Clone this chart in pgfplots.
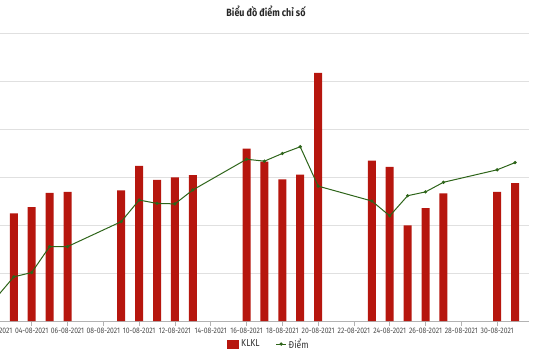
\documentclass[border=0pt]{standalone}
\usepackage{fontspec}
\setmainfont[FakeStretch=0.85]{Fira Sans}
\usepackage{pgfplots}
\usepackage{pgfplotstable}
\pgfplotsset{compat=1.18}
\definecolor{barred}{RGB}{182,22,14}
\definecolor{lgreen}{RGB}{45,100,25}
\definecolor{gridc}{RGB}{224,224,224}
\pgfplotstableread{
day klkl
3 2.24
4 2.37
5 2.67
6 2.69
9 2.72
10 3.23
11 2.94
12 2.99
13 3.04
16 3.59
17 3.32
18 2.95
19 3.05
20 5.17
23 3.34
24 3.21
25 1.99
26 2.35
27 2.66
30 2.69
31 2.875
}\bars
\pgfplotstableread{
day diem
2 0.48
3 0.92
4 1.01
5 1.55
6 1.55
9 2.07
10 2.52
11 2.45
12 2.44
13 2.73
16 3.37
17 3.33
18 3.49
19 3.63
20 2.81
23 2.50
24 2.19
25 2.61
26 2.69
27 2.89
30 3.15
31 3.30
}\pts
\begin{document}
\begin{tikzpicture}[x=1pt,y=1pt]
\begin{axis}[at={(-22pt,39pt)}, anchor=south west, scale only axis,
  width=551pt, height=288pt,
  xmin=1, xmax=31.78, ymin=0, ymax=6,
  ytick={0,1,...,6}, yticklabels={}, ymajorgrids,
  grid style={gridc, line width=0.8pt},
  axis x line*=bottom, axis y line*=left,
  y axis line style={draw=none},
  ytick style={draw=none},
  x axis line style={gridc!80!black, line width=0.6pt, -},
  xtick={2,4,...,30},
  xticklabels={02-08-2021,04-08-2021,06-08-2021,08-08-2021,10-08-2021,12-08-2021,14-08-2021,16-08-2021,18-08-2021,20-08-2021,22-08-2021,24-08-2021,26-08-2021,28-08-2021,30-08-2021},
  xtick style={gridc!80!black, line width=0.6pt},
  tick align=outside, major tick length=5pt,
  xticklabel style={font=\fontsize{8}{9}\selectfont, text=black!70, yshift=1pt},
  legend columns=2,
  legend style={draw=none, fill=none, at={(0.528,-0.08)}, anchor=center,
    font=\fontsize{10}{11}\selectfont, text=black!80,
    /tikz/every even column/.append style={column sep=14pt}},
]
\addplot[ybar, bar width=8pt, bar shift=0pt, fill=barred, draw=none,
  legend image code/.code={\fill[barred] (0pt,-4.5pt) rectangle (12pt,4.5pt);}]
  table[x=day, y=klkl] {\bars};
\addlegendentry{KLKL}
\addplot[lgreen, line width=1pt, mark=*, mark size=1.1pt, mark options={fill=lgreen, draw=lgreen},
  legend image code/.code={\draw[lgreen, line width=1pt] (0pt,0pt) -- (10pt,0pt); \fill[lgreen] (5pt,0pt) circle (1.1pt);}]
  table[x=day, y=diem] {\pts};
\addlegendentry{Điểm}
\end{axis}
\node[font=\bfseries\fontsize{10.5}{12}\selectfont, text=black!85] at (266pt,349pt) {Biểu đồ điểm chỉ số};
\pgfresetboundingbox
\useasboundingbox (0pt,0pt) rectangle (540pt,360pt);
\end{tikzpicture}
\end{document}
